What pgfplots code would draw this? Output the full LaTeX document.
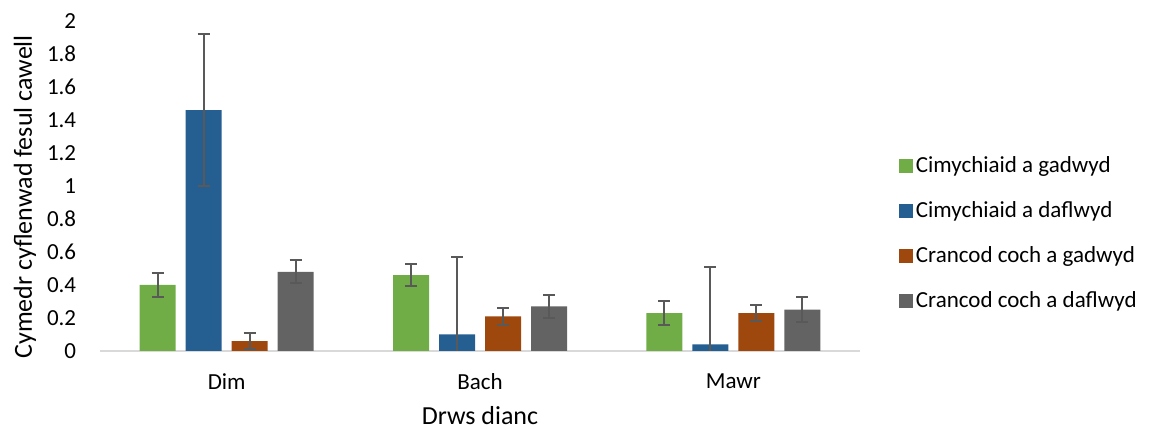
\documentclass[border=0pt]{standalone}
\usepackage{pgfplots}
\pgfplotsset{compat=1.18}
\usepackage{fontspec}
\setmainfont{Carlito}
\definecolor{cgreen}{HTML}{70AD47}
\definecolor{cblue}{HTML}{255E91}
\definecolor{corange}{HTML}{9E480E}
\definecolor{cgrey}{HTML}{636363}
\definecolor{errc}{HTML}{595959}
\definecolor{axc}{HTML}{D9D9D9}
\pgfplotsset{
  sq/.style={legend image code/.code={\fill[#1] (0pt,-7pt) rectangle (14pt,7pt);}},
  myerr/.style={error bars/.cd, y dir=both, y explicit,
    error bar style={line width=2pt, color=errc},
    error mark options={rotate=90, mark size=6pt, line width=2pt, color=errc}}
}
\newcommand{\ff}{\fontsize{23pt}{27pt}\selectfont}
\newcommand{\fl}{\fontsize{26pt}{30pt}\selectfont}
\begin{document}
\ff
\begin{tikzpicture}
\useasboundingbox (0,0) rectangle (1152pt,430pt);
\begin{axis}[
  at={(100pt,79pt)}, anchor=south west,
  width=760pt, height=330pt, scale only axis,
  xmin=-0.5, xmax=2.5, ymin=0, ymax=2,
  ybar=10pt, bar width=36pt,
  axis x line*=bottom, axis y line*=left,
  x axis line style={draw=axc, line width=1.5pt, -},
  y axis line style={draw=none},
  tick style={draw=none}, major tick length=0pt,
  xtick={0,1,2}, xticklabels={Dim,Bach,Mawr},
  ytick={0,0.2,0.4,0.6,0.8,1,1.2,1.4,1.6,1.8,2},
  yticklabels={0,0.2,0.4,0.6,0.8,1,1.2,1.4,1.6,1.8,2},
  yticklabel style={font=\ff, anchor=east, xshift=-16pt},
  xticklabel style={font=\ff, yshift=-15pt},
  xlabel={Drws dianc}, ylabel={Cymedr cyflenwad fesul cawell},
  xlabel style={font=\fl, inner sep=0pt, at={(axis description cs:0.5,-0.224)}, anchor=base},
  ylabel style={font=\fl, at={(axis description cs:-0.0895,0.467)}, anchor=base},
  legend style={at={(axis description cs:1.051,0.356)}, anchor=west, draw=none, fill=none,
    inner sep=0pt, row sep=21.5pt, font=\ff, nodes={inner xsep=3pt}},
  legend cell align=left,
]
\addplot[fill=cgreen, draw=none, sq=cgreen, myerr] coordinates {
  (0,0.40) +- (0,0.07)
  (1,0.46) +- (0,0.065)
  (2,0.23) +- (0,0.07)
};
\addplot[fill=cblue, draw=none, sq=cblue, myerr] coordinates {
  (0,1.46) +- (0,0.46)
  (1,0.10) +- (0,0.47)
  (2,0.04) +- (0,0.47)
};
\addplot[fill=corange, draw=none, sq=corange, myerr] coordinates {
  (0,0.06) +- (0,0.05)
  (1,0.21) +- (0,0.05)
  (2,0.23) +- (0,0.05)
};
\addplot[fill=cgrey, draw=none, sq=cgrey, myerr] coordinates {
  (0,0.48) +- (0,0.07)
  (1,0.27) +- (0,0.07)
  (2,0.25) +- (0,0.075)
};
\legend{Cimychiaid a gadwyd, Cimychiaid a daflwyd, Crancod coch a gadwyd, Crancod coch a daflwyd}
\end{axis}
\end{tikzpicture}
\end{document}
